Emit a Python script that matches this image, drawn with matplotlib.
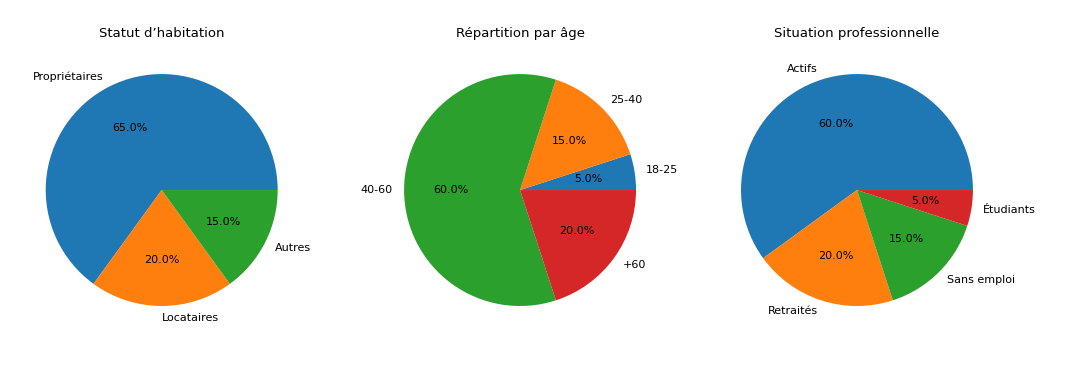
import matplotlib.pyplot as plt

# donnees des trois camemberts
habitat_labels = ['Propriétaires', 'Locataires', 'Autres']
habitat_values = [65, 20, 15]

age_labels = ['18-25', '25-40', '40-60', '+60']
age_values = [5, 15, 60, 20]

pro_labels = ['Actifs', 'Retraités', 'Sans emploi', 'Étudiants']
pro_values = [60, 20, 15, 5]

titles = ['Statut d’habitation', 'Répartition par âge', 'Situation professionnelle']

fig = plt.figure(figsize=(10.83, 3.67), dpi=100)

lefts = [0.0154, 0.3463, 0.6574]
data = [(habitat_values, habitat_labels), (age_values, age_labels), (pro_values, pro_labels)]

for left, (vals, labs), title in zip(lefts, data, titles):
    ax = fig.add_axes([left, 0.0872, 0.2678, 0.790])
    ax.pie(vals, labels=labs, autopct='%1.1f%%', textprops={'fontsize': 8})
    ax.set_title(title, fontsize=9.5)

plt.savefig('out.png', dpi=100)
